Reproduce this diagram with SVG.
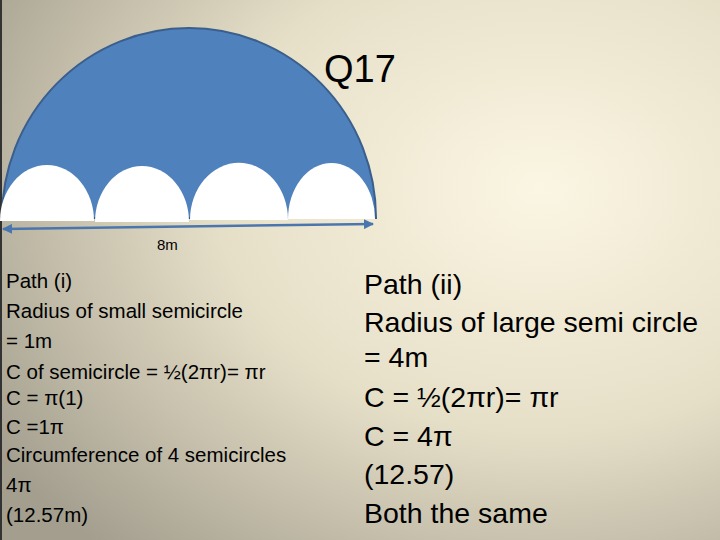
<svg xmlns="http://www.w3.org/2000/svg" width="720" height="540" viewBox="0 0 720 540">
<defs>
<radialGradient id="bg" cx="0.75" cy="0.35" r="0.9">
<stop offset="0" stop-color="#fbf6e3"/>
<stop offset="0.5" stop-color="#e6dfc8"/>
<stop offset="1" stop-color="#a39e8e"/>
</radialGradient>
<marker id="ah" viewBox="0 0 10 10" refX="9" refY="5" markerWidth="4" markerHeight="4" orient="auto-start-reverse"><path d="M0,0 L10,5 L0,10 z" fill="#4a76ad"/></marker>
</defs>
<style>
.l{font-family:"Liberation Sans",Arial,sans-serif;font-size:20.5px;fill:#000}
.r{font-family:"Liberation Sans",Arial,sans-serif;font-size:28.5px;fill:#000}
.s{fill:#fff}
</style>
<rect width="720" height="540" fill="url(#bg)"/>
<rect x="0" y="0" width="2" height="540" fill="#333"/>
<g id="large">
<path d="M2,218 A187,190 0 0 1 376,218 Z" fill="#4f81bd" stroke="#3b5f8c" stroke-width="2"/>
</g>
<g id="small">
<path class="s" d="M0,221 A47,56 0 0 1 94,221 Z"/>
<path class="s" d="M95,222 A47,56 0 0 1 189,222 Z"/>
<path class="s" d="M190,220 A48,56 0 0 1 288,220 Z"/>
<path class="s" d="M288,219 A43.5,56 0 0 1 375,219 Z"/>
</g>
<g id="connectors">
<line x1="3" y1="229" x2="373" y2="224" stroke="#4a76ad" stroke-width="2.5" marker-start="url(#ah)" marker-end="url(#ah)"/>
</g>
<text x="157" y="250" font-family="Liberation Sans,Arial,sans-serif" font-size="15">8m</text>
<text x="324" y="82" font-family="Liberation Sans,Arial,sans-serif" font-size="38">Q17</text>
<text x="6" y="288" class="l">Path (i)</text>
<text x="6" y="318" class="l">Radius of small semicircle</text>
<text x="6" y="348" class="l">= 1m</text>
<text x="6" y="379" class="l">C of semicircle = ½(2πr)= πr</text>
<text x="6" y="405" class="l">C = π(1)</text>
<text x="6" y="434" class="l">C =1π</text>
<text x="6" y="462" class="l">Circumference of 4 semicircles</text>
<text x="6" y="492" class="l">4π</text>
<text x="6" y="522" class="l"> (12.57m)</text>
<text x="364" y="294" class="r">Path (ii)</text>
<text x="364" y="332" class="r">Radius of large semi circle</text>
<text x="364" y="367" class="r">= 4m</text>
<text x="364" y="407" class="r">C = ½(2πr)= πr</text>
<text x="364" y="446" class="r">C = 4π</text>
<text x="364" y="484" class="r">(12.57)</text>
<text x="364" y="523" class="r">Both the same</text>
</svg>
